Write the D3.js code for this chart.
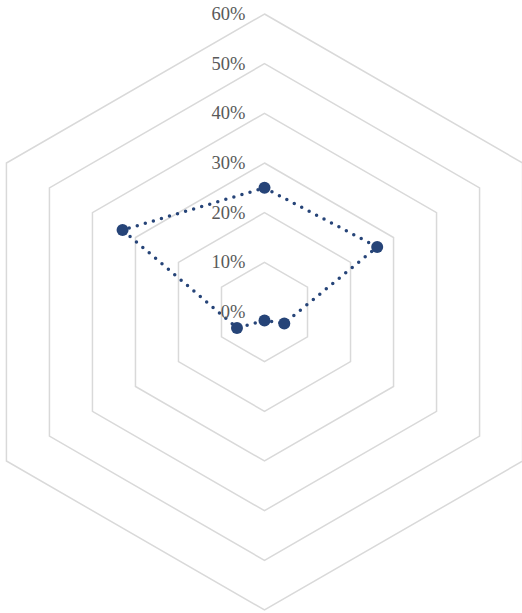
<!DOCTYPE html>
<html>
<head>
<meta charset="utf-8">
<script src="https://cdn.jsdelivr.net/npm/d3@7"></script>
<style>
  html, body { margin: 0; padding: 0; background: #ffffff; }
  svg { display: block; }
</style>
</head>
<body>
<svg id="chart" width="522" height="613"></svg>
<script>
// Six spokes, one series, values as fractions
const categories = ["1", "2", "3", "4", "5", "6"];
const values = [0.25, 0.262, 0.046, 0.017, 0.064, 0.33];
const tickValues = [0, 0.1, 0.2, 0.3, 0.4, 0.5, 0.6];
const tickLabels = ["0%", "10%", "20%", "30%", "40%", "50%", "60%"];

const svg = d3.select("#chart");
const cx = 264.5, cy = 312;
const r = d3.scaleLinear().domain([0, 0.6]).range([0, 298]);
const angle = d3.scalePoint().domain(categories.concat("_end")).range([0, 2 * Math.PI]);

const pt = (cat, v) => {
  const a = angle(cat);
  return [cx + r(v) * Math.sin(a), cy - r(v) * Math.cos(a)];
};

const g = svg.append("g");

// Hexagonal grid rings
const ring = d3.line().curve(d3.curveLinearClosed);
g.selectAll("path.grid")
  .data(tickValues.filter(t => t > 0))
  .join("path")
  .attr("class", "grid")
  .attr("d", t => ring(categories.map(c => pt(c, t))))
  .attr("fill", "none")
  .attr("stroke", "#d9d9d9")
  .attr("stroke-width", 1.5);

// Series line (round dotted)
g.append("path")
  .attr("d", ring(categories.map((c, i) => pt(c, values[i]))))
  .attr("fill", "none")
  .attr("stroke", "#264478")
  .attr("stroke-width", 3.5)
  .attr("stroke-linecap", "round")
  .attr("stroke-dasharray", "0 8.4");

// Markers
g.selectAll("circle.marker")
  .data(categories.map((c, i) => pt(c, values[i])))
  .join("circle")
  .attr("class", "marker")
  .attr("cx", d => d[0])
  .attr("cy", d => d[1])
  .attr("r", 6)
  .attr("fill", "#264478");

// Radial value labels along the top spoke
g.selectAll("text.tick")
  .data(tickValues)
  .join("text")
  .attr("class", "tick")
  .attr("x", cx - 19)
  .attr("y", t => cy - r(t))
  .attr("text-anchor", "end")
  .attr("dominant-baseline", "central")
  .attr("font-family", "'Liberation Serif', 'Times New Roman', serif")
  .attr("font-size", 18.5)
  .attr("fill", "#595959")
  .text((t, i) => tickLabels[i]);
</script>
</body>
</html>
